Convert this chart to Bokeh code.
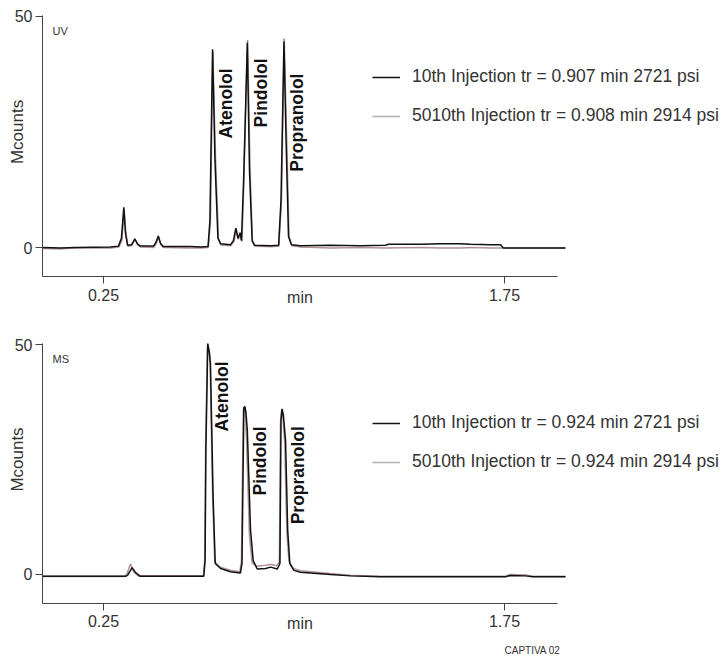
from bokeh.plotting import figure
from bokeh.models import (Range1d, FixedTicker, Label, Legend, LegendItem)
from bokeh.layouts import column
from bokeh.embed import file_html
from bokeh.resources import INLINE
import math

# ---------------- data ----------------
# UV trace, 10th injection (time in min, signal in Mcounts)
t_uv_10 = [0.022, 0.089, 0.145, 0.276, 0.306, 0.317, 0.326, 0.332, 0.340, 0.355,
           0.367, 0.377, 0.388, 0.437, 0.446, 0.455, 0.463, 0.473, 0.575, 0.613,
           0.641, 0.648, 0.658, 0.667, 0.678, 0.688, 0.725, 0.736, 0.745, 0.753,
           0.761, 0.766, 0.774, 0.788, 0.796, 0.806, 0.815, 0.875, 0.905, 0.914,
           0.925, 0.933, 0.942, 0.953, 0.987, 1.099, 1.211, 1.305, 1.316, 1.436,
           1.511, 1.585, 1.623, 1.698, 1.735, 1.746, 1.978]
v_uv_10 = [0.0, -0.1, 0.0, 0.1, 0.3, 2.0, 8.7, 3.2, 0.5, 0.6,
           1.9, 0.8, 0.3, 0.3, 1.1, 2.5, 0.9, 0.2, 0.2, 0.1,
           0.2, 5.8, 42.9, 18.8, 2.0, 0.8, 0.6, 1.5, 4.2, 2.0,
           3.2, 1.5, 14.5, 44.3, 16.7, 1.5, 0.5, 0.4, 0.5, 10.2,
           44.6, 23.2, 2.4, 0.6, 0.4, 0.5, 0.4, 0.5, 0.7, 0.7,
           0.8, 0.8, 0.7, 0.6, 0.6, -0.1, -0.1]
# UV trace, 5010th injection
t_uv_5010 = [0.022, 0.089, 0.145, 0.276, 0.308, 0.319, 0.327, 0.334, 0.341, 0.356,
             0.368, 0.379, 0.390, 0.438, 0.448, 0.456, 0.465, 0.474, 0.576, 0.613,
             0.642, 0.650, 0.659, 0.669, 0.680, 0.690, 0.726, 0.738, 0.746, 0.755,
             0.762, 0.768, 0.775, 0.789, 0.798, 0.807, 0.816, 0.876, 0.906, 0.916,
             0.926, 0.935, 0.944, 0.955, 0.988, 1.099, 1.211, 1.305, 1.436, 1.511,
             1.586, 1.623, 1.698, 1.746, 1.978]
v_uv_5010 = [-0.2, -0.3, -0.1, -0.1, 0.1, 1.6, 8.3, 3.0, 0.3, 0.4,
             1.7, 0.5, 0.1, 0.0, 0.9, 2.3, 0.6, 0.0, -0.1, -0.1,
             0.0, 5.5, 42.4, 19.5, 2.0, 0.5, 0.4, 1.3, 3.9, 1.8,
             3.0, 1.3, 14.0, 44.9, 17.5, 1.4, 0.3, 0.2, 0.3, 10.5,
             45.2, 24.0, 2.4, 0.4, 0.1, -0.1, 0.0, -0.1, 0.0, -0.1,
             -0.1, 0.0, -0.1, -0.1, -0.1]
# MS trace, 10th injection
t_ms_10 = [0.022, 0.332, 0.340, 0.357, 0.370, 0.388, 0.625, 0.630, 0.633, 0.640,
           0.646, 0.650, 0.660, 0.668, 0.688, 0.725, 0.762, 0.768, 0.775, 0.779,
           0.783, 0.788, 0.800, 0.810, 0.825, 0.856, 0.875, 0.900, 0.910, 0.914,
           0.918, 0.923, 0.931, 0.939, 0.947, 0.962, 0.987, 1.099, 1.174, 1.286,
           1.754, 1.772, 1.829, 1.855, 1.978]
v_ms_10 = [-0.4, -0.4, -0.2, 1.5, 0.4, -0.4, -0.4, 3.0, 27.0, 50.2,
           48.3, 45.9, 16.8, 2.4, 1.3, 0.6, 0.3, 2.4, 36.3, 36.5,
           35.2, 31.3, 9.6, 3.0, 1.2, 1.3, 1.6, 1.2, 2.4, 33.5,
           36.0, 34.6, 29.1, 9.6, 2.4, 0.9, 0.5, 0.0, -0.3, -0.5,
           -0.5, -0.2, -0.3, -0.5, -0.5]
# MS trace, 5010th injection
t_ms_5010 = [0.022, 0.330, 0.338, 0.351, 0.362, 0.380, 0.624, 0.629, 0.632, 0.639,
             0.645, 0.649, 0.658, 0.666, 0.686, 0.725, 0.760, 0.766, 0.773, 0.777,
             0.781, 0.785, 0.796, 0.806, 0.822, 0.856, 0.875, 0.898, 0.908, 0.912,
             0.916, 0.921, 0.928, 0.936, 0.944, 0.960, 0.987, 1.099, 1.174, 1.286,
             1.754, 1.770, 1.830, 1.855, 1.978]
v_ms_5010 = [-0.4, -0.4, 0.2, 2.3, 0.6, -0.3, -0.3, 3.5, 28.0, 50.0,
             48.5, 45.5, 17.5, 2.8, 1.6, 0.9, 0.6, 2.8, 35.8, 36.2,
             34.5, 29.5, 8.5, 2.5, 1.8, 2.0, 2.2, 1.9, 2.8, 33.0,
             35.7, 34.3, 28.5, 9.0, 2.8, 1.3, 0.8, 0.2, -0.2, -0.4,
             -0.4, 0.0, -0.1, -0.4, -0.4]

x_ticks = [0.25, 1.75]
y_ticks = [0, 50]
peak_names = ["Atenolol", "Pindolol", "Propranolol"]
uv_label_t = [0.710, 0.841, 0.972]
uv_label_v = [23.6, 26.0, 16.4]
ms_label_t = [0.695, 0.835, 0.976]
ms_label_v = [31.1, 17.2, 10.9]
uv_legend = ["10th Injection tr = 0.907 min 2721 psi",
             "5010th Injection tr = 0.908 min 2914 psi"]
ms_legend = ["10th Injection tr = 0.924 min 2721 psi",
             "5010th Injection tr = 0.924 min 2914 psi"]

# ---------------- layout ----------------
X_VIEW = (-0.1353, 2.5767)        # whole canvas width is the frame
X_AXIS_BOUNDS = (0.0218, 1.948)
Y_AXIS_BOUNDS = (-6.28, 50.22)
FONT = "Liberation Sans"
TXT = "#333333"


def make_panel(t10, v10, t5010, v5010, tag, legend_labels, lab_t, lab_v,
               height, y_view, legend_y):
    p = figure(width=725, height=height, output_backend="svg",
               toolbar_location=None, tools="",
               x_range=Range1d(*X_VIEW), y_range=Range1d(*y_view),
               min_border=0)
    p.outline_line_color = None
    p.grid.visible = False
    p.background_fill_color = "white"
    p.border_fill_color = "white"

    r_gray = p.line(t5010, v5010, line_color="#b4b4b4", line_width=1.6)
    p.line(t5010, v5010, line_color="#b86872", line_width=0.7, line_alpha=0.75)
    r_black = p.line(t10, v10, line_color="#111111", line_width=1.5)

    for ax in (p.xaxis[0], p.yaxis[0]):
        ax.axis_line_color = "#444444"
        ax.axis_line_width = 1
        ax.major_tick_line_color = "#444444"
        ax.major_tick_out = 7
        ax.major_tick_in = 0
        ax.minor_tick_out = 0
        ax.minor_tick_in = 0
        ax.major_label_text_font = FONT
        ax.major_label_text_font_size = "16px"
        ax.major_label_text_color = TXT
    p.xaxis[0].ticker = FixedTicker(ticks=x_ticks)
    p.yaxis[0].ticker = FixedTicker(ticks=y_ticks)
    p.xaxis[0].bounds = X_AXIS_BOUNDS
    p.yaxis[0].bounds = Y_AXIS_BOUNDS
    p.xaxis[0].fixed_location = Y_AXIS_BOUNDS[0]
    p.yaxis[0].fixed_location = X_AXIS_BOUNDS[0]
    p.xaxis[0].major_label_standoff = 5
    p.yaxis[0].major_label_standoff = 3

    # x-axis title "min" at tick-label level
    p.add_layout(Label(x=(X_AXIS_BOUNDS[0] + X_AXIS_BOUNDS[1]) / 2,
                       y=Y_AXIS_BOUNDS[0], y_offset=-12, text="min",
                       text_align="center", text_baseline="top",
                       text_font=FONT, text_font_size="16px", text_color=TXT))
    # y-axis title
    p.add_layout(Label(x=X_AXIS_BOUNDS[0], y=(y_ticks[0] + y_ticks[1]) / 2,
                       x_offset=-24.5, text="Mcounts", angle=math.pi / 2,
                       text_align="center", text_baseline="middle",
                       text_font=FONT, text_font_size="17px", text_color=TXT))
    # detector tag
    p.add_layout(Label(x=X_AXIS_BOUNDS[0], y=Y_AXIS_BOUNDS[1], x_offset=10,
                       y_offset=-10, text=tag, text_align="left",
                       text_baseline="top", text_font=FONT,
                       text_font_size="11px", text_color=TXT))
    # peak names
    for name, tt, vv in zip(peak_names, lab_t, lab_v):
        p.add_layout(Label(x=tt, y=vv, text=name, angle=math.pi / 2,
                           text_align="left", text_baseline="middle",
                           text_font=FONT, text_font_size="17.5px",
                           text_font_style="bold", text_color="#111111"))

    legend = Legend(items=[LegendItem(label=legend_labels[0], renderers=[r_black]),
                           LegendItem(label=legend_labels[1], renderers=[r_gray])],
                    location=(372, legend_y), orientation="vertical",
                    padding=0, margin=0, spacing=18,
                    label_height=20, glyph_height=20, glyph_width=28,
                    label_standoff=12, border_line_color=None,
                    background_fill_alpha=0,
                    label_text_font=FONT, label_text_font_size="17.5px",
                    label_text_color=TXT)
    p.add_layout(legend)
    return p


p1 = make_panel(t_uv_10, v_uv_10, t_uv_5010, v_uv_5010, "UV", uv_legend,
                uv_label_t, uv_label_v, height=336, y_view=(-19.26, 53.46),
                legend_y=210)
p2 = make_panel(t_ms_10, v_ms_10, t_ms_5010, v_ms_5010, "MS", ms_legend,
                ms_label_t, ms_label_v, height=323, y_view=(-18.48, 51.74),
                legend_y=187)
p2.add_layout(Label(x=x_ticks[1], y=Y_AXIS_BOUNDS[0], y_offset=-53,
                    text="CAPTIVA  02", text_align="left",
                    text_baseline="bottom", text_font=FONT,
                    text_font_size="10px", text_color=TXT))

layout = column(p1, p2, spacing=0)
open("out.html", "w").write(file_html(layout, INLINE))
